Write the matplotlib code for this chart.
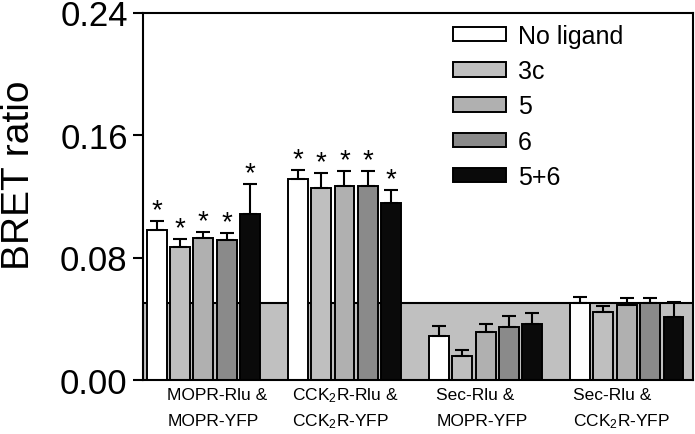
import numpy as np
import matplotlib
matplotlib.use('Agg')
import matplotlib.pyplot as plt

plt.rcParams['font.family'] = ['Liberation Sans', 'DejaVu Sans']
plt.rcParams['mathtext.default'] = 'regular'

group_line1 = ['MOPR-Rlu &', 'CCK$_2$R-Rlu &', 'Sec-Rlu &', 'Sec-Rlu &']
group_line2 = ['MOPR-YFP', 'CCK$_2$R-YFP', 'MOPR-YFP', 'CCK$_2$R-YFP']
ligands = ['No ligand', '3c', '5', '6', '5+6']
colors = ['#ffffff', '#bfbfbf', '#b0b0b0', '#8a8a8a', '#0a0a0a']

# values per ligand, one entry per group
no_ligand = [0.098, 0.131, 0.0285, 0.0505]
lig_3c = [0.0867, 0.1254, 0.0155, 0.0446]
lig_5 = [0.0925, 0.1265, 0.0313, 0.049]
lig_6 = [0.0914, 0.1267, 0.0348, 0.0505]
lig_56 = [0.1084, 0.1156, 0.0368, 0.041]

err_no_ligand = [0.006, 0.006, 0.0068, 0.0037]
err_3c = [0.0053, 0.0096, 0.0043, 0.0039]
err_5 = [0.0042, 0.0098, 0.0051, 0.0048]
err_6 = [0.0048, 0.0096, 0.007, 0.0031]
err_56 = [0.0196, 0.0087, 0.007, 0.0102]

# asterisks (significant) per group
signif = [True, True, False, False]

baseline = 0.05
label_x = [0.46, 5.8, 11.95, 17.8]

values = [no_ligand, lig_3c, lig_5, lig_6, lig_56]
errors = [err_no_ligand, err_3c, err_5, err_6, err_56]

fig = plt.figure(figsize=(6.95, 4.35), dpi=100)
ax = fig.add_axes([143/695, 1-381/435, (692.5-143)/695, (381-13.5)/435])

ax.axhspan(0, baseline, facecolor='#c0c0c0', edgecolor='none', zorder=0)
ax.axhline(baseline, color='black', lw=1.5, zorder=1)

for i, (lab, vals, errs, c) in enumerate(zip(ligands, values, errors, colors)):
    x = np.arange(len(group_line1)) * 6.03 + i
    ax.bar(x, vals, width=0.85, color=c, edgecolor='black', linewidth=1.4,
           label=lab, zorder=2)
    ax.errorbar(x, vals, yerr=[np.zeros(len(vals)), errs], fmt='none',
                ecolor='black', elinewidth=1.5, capsize=5, capthick=1.5, zorder=3)
    for xx, v, e, s in zip(x, vals, errs, signif):
        if s:
            ax.text(xx, v + e - 0.0015, '*', ha='center', va='bottom', fontsize=20)

ax.set_xlim(-0.58, 22.9)
ax.set_ylim(0, 0.24)
ax.set_yticks([0, 0.08, 0.16, 0.24])
ax.set_yticklabels(['0.00', '0.08', '0.16', '0.24'])
ax.tick_params(axis='y', labelsize=25, length=7, width=1.5, pad=4)
ax.set_xticks([])
for sp in ax.spines.values():
    sp.set_linewidth(1.5)

for lx, l1, l2 in zip(label_x, group_line1, group_line2):
    ax.text(lx, -0.0124, l1, ha='left', va='baseline', fontsize=12.5)
    ax.text(lx, -0.0294, l2, ha='left', va='baseline', fontsize=12.5)

fig.text(19/695, 1-175/435, 'BRET ratio', rotation=90, ha='center', va='center',
         fontsize=28)

ax.legend(loc='upper left', bbox_to_anchor=(453/695, 1-25/435),
          bbox_transform=fig.transFigure, frameon=False, fontsize=18,
          handlelength=2.1, handleheight=0.52, handletextpad=0.5,
          labelspacing=0.45, borderpad=0, borderaxespad=0)

fig.savefig('out.png', dpi=100)
